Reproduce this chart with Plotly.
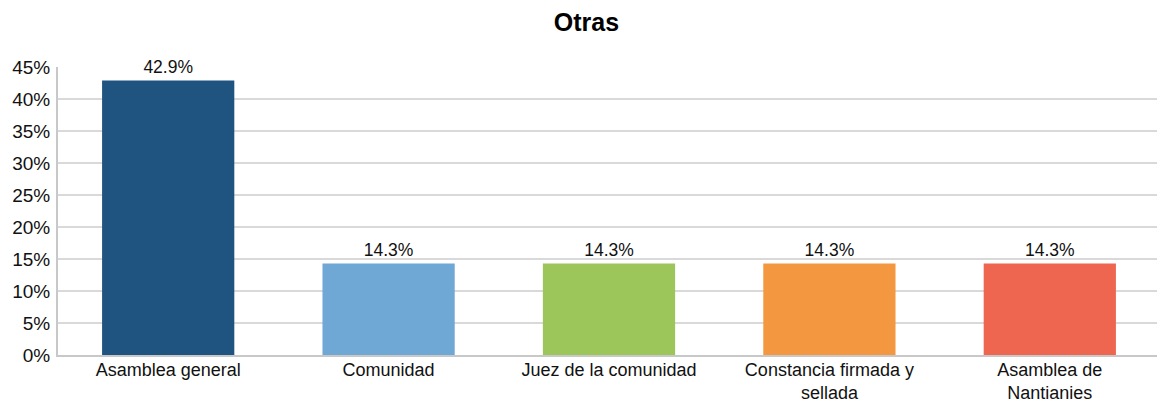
import plotly.graph_objects as go

categories = ["Asamblea general", "Comunidad", "Juez de la comunidad",
              "Constancia firmada y<br>sellada", "Asamblea de<br>Nantianies"]
values = [0.429, 0.143, 0.143, 0.143, 0.143]
colors = ["#1F5380", "#6FA7D5", "#9CC65A", "#F39741", "#EE6650"]

# the page body has an 8px margin, so the figure is sized 8px smaller
fig = go.Figure(go.Bar(
    x=categories,
    y=values,
    marker_color=colors,
    marker_line_width=0,
    text=[f"{v * 100:.1f}%" for v in values],
    textposition="outside",
    textfont=dict(size=17.5, color="#111"),
    cliponaxis=False,
))

fig.update_layout(
    title=dict(text="<b>Otras</b>", x=0.5, y=0.965, xanchor="center", yanchor="middle",
               font=dict(size=25, color="#000")),
    width=1157,
    height=397,
    margin=dict(l=50, r=5, t=59, b=50),
    paper_bgcolor="white",
    plot_bgcolor="white",
    font=dict(family="Liberation Sans, Arial, sans-serif", size=19, color="#111"),
    bargap=0.4,
    showlegend=False,
)
fig.update_yaxes(
    range=[0, 0.45], dtick=0.05, tickformat=".0%",
    showgrid=True, gridcolor="#D9D9D9", gridwidth=1.5,
    showline=True, linecolor="#C8C8C8", linewidth=2,
    ticks="", ticklabelstandoff=2,
    zeroline=False, automargin=False,
)
fig.update_xaxes(
    showline=True, linecolor="#C8C8C8", linewidth=2,
    ticks="", showgrid=False, automargin=False, ticklabelstandoff=-3,
    tickfont=dict(size=18),
)

fig.write_html("out.html")
